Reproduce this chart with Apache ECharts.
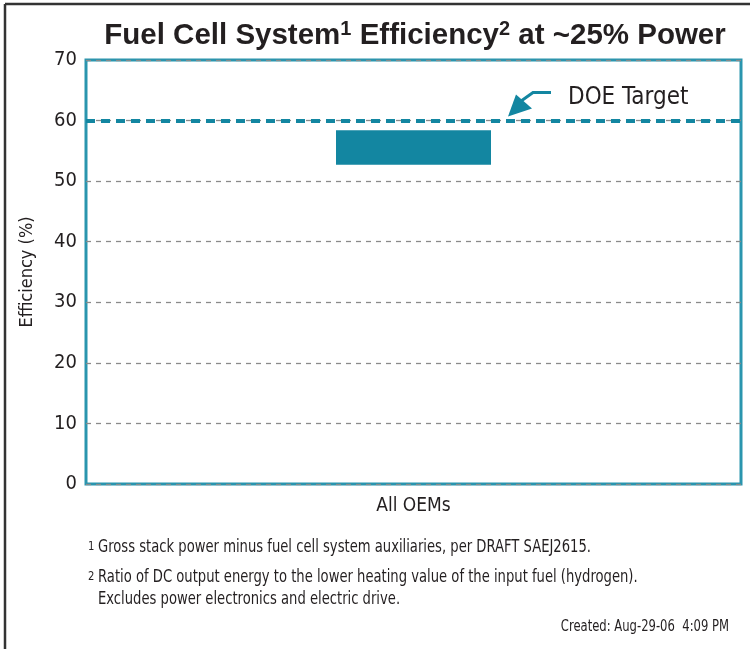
<!DOCTYPE html>
<html><head><meta charset="utf-8">
<script src="https://cdn.jsdelivr.net/npm/echarts@6/dist/echarts.min.js"></script>
<style>html,body{margin:0;padding:0;background:#fff}#c{width:750px;height:649px}</style>
</head><body><div id="c"></div>
<script>
const categories = ['All OEMs'];
const barLow = [52.7];
const barHigh = [58.4];
const doeTarget = 60;
const yTicks = [0, 10, 20, 30, 40, 50, 60, 70];
const footnote1 = 'Gross stack power minus fuel cell system auxiliaries, per DRAFT SAEJ2615.';
const footnote2a = 'Ratio of DC output energy to the lower heating value of the input fuel (hydrogen).';
const footnote2b = 'Excludes power electronics and electric drive.';
const created = 'Created: Aug-29-06  4:09 PM';

const TEAL = '#1386a1';
const BORDER = '#2a95ae';
const NARROW = '"DejaVu Sans Condensed","Liberation Sans Narrow",sans-serif';

const chart = echarts.init(document.getElementById('c'), null, {renderer: 'canvas'});
const option = {
  animation: false,
  backgroundColor: '#fff',
  title: {
    text: '{b|Fuel Cell System}{s|1}{b| Efficiency}{s|2}{b| at ~25% Power}',
    left: 410, top: 14, textAlign: 'center',
    textStyle: {
      rich: {
        b: {fontFamily: '"Liberation Sans",sans-serif', fontWeight: 'bold', fontSize: 29.5, color: '#231f20', lineHeight: 33},
        s: {fontFamily: '"Liberation Sans",sans-serif', fontWeight: 'bold', fontSize: 20, color: '#231f20', verticalAlign: 'top', lineHeight: 33}
      }
    }
  },
  grid: {left: 86, top: 60, width: 655, height: 424, show: true, borderColor: BORDER, borderWidth: 3, backgroundColor: 'transparent', containLabel: false},
  xAxis: {
    type: 'category', data: categories,
    axisLine: {show: false}, axisTick: {show: false},
    axisLabel: {fontFamily: NARROW, fontSize: 19, color: '#231f20', margin: 13}
  },
  yAxis: {
    type: 'value', min: 0, max: 70, interval: 10,
    name: 'Efficiency (%)', nameLocation: 'middle', nameGap: 50, nameRotate: 90,
    nameTextStyle: {fontFamily: NARROW, fontSize: 18, color: '#231f20'},
    axisLine: {show: false}, axisTick: {show: false},
    axisLabel: {fontFamily: NARROW, fontSize: 20, color: '#231f20', margin: 9,
      formatter: v => yTicks.includes(v) ? String(v) : ''},
    splitLine: {show: true, lineStyle: {color: '#8a8a8a', width: 1.3, type: [5, 5]}}
  },
  series: [
    {type: 'bar', stack: 's', data: barLow, itemStyle: {color: 'transparent'}, barWidth: 155, silent: true},
    {type: 'bar', stack: 's', data: barHigh.map((h, i) => +(h - barLow[i]).toFixed(2)), itemStyle: {color: TEAL}, barWidth: 155,
      markLine: {
        symbol: 'none', silent: true, label: {show: false},
        lineStyle: {color: TEAL, width: 4, type: [9, 6]},
        data: [{yAxis: doeTarget}]
      }
    }
  ]
};
chart.setOption(option);

const yT = chart.convertToPixel({yAxisIndex: 0}, doeTarget);
const fn = {fontFamily: NARROW, fontSize: 17, fill: '#231f20'};
const sup = {fontFamily: NARROW, fontSize: 13, fill: '#231f20'};
const SX = 0.86;
chart.setOption({
  graphic: [
    {type: 'line', shape: {x1: 5, y1: 4, x2: 750, y2: 4}, style: {stroke: '#333', lineWidth: 2.5}},
    {type: 'line', shape: {x1: 5, y1: 4, x2: 5, y2: 649}, style: {stroke: '#333', lineWidth: 2.5}},
    {type: 'polyline', shape: {points: [[551, yT - 28], [533, yT - 28], [519, yT - 18]]}, style: {stroke: TEAL, lineWidth: 3, fill: null}},
    {type: 'polygon', shape: {points: [[508, yT - 4], [516, yT - 26], [532, yT - 12]]}, style: {fill: TEAL}},
    {type: 'text', x: 568, y: yT - 23, style: {text: 'DOE Target', fontFamily: NARROW, fontSize: 24, fill: '#231f20', textVerticalAlign: 'middle'}},
    {type: 'text', x: 88, y: 540, scaleX: SX, style: Object.assign({text: '1'}, sup)},
    {type: 'text', x: 98, y: 539, scaleX: SX, style: Object.assign({text: footnote1}, fn)},
    {type: 'text', x: 88, y: 570, scaleX: SX, style: Object.assign({text: '2'}, sup)},
    {type: 'text', x: 98, y: 569, scaleX: SX, style: Object.assign({text: footnote2a}, fn)},
    {type: 'text', x: 98, y: 591, scaleX: SX, style: Object.assign({text: footnote2b}, fn)},
    {type: 'text', x: 729, y: 620, scaleX: SX, style: {text: created, fontFamily: NARROW, fontSize: 15, fill: '#231f20', textAlign: 'right'}}
  ]
});
</script></body></html>
